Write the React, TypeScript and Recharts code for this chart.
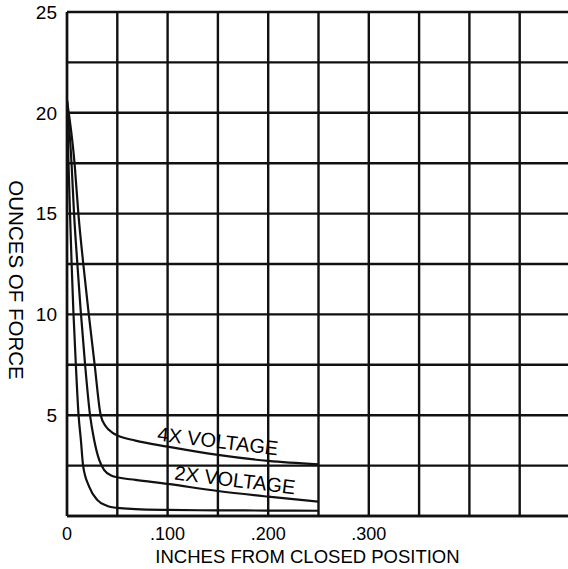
import React from 'react';
import { LineChart, Line, XAxis, YAxis, CartesianGrid, ReferenceDot, Label } from 'recharts';

const X_TICKS = [0, 0.05, 0.1, 0.15, 0.2, 0.25, 0.3, 0.35, 0.4, 0.45, 0.5];
const X_TICK_LABELS = ['0', '', '.100', '', '.200', '', '.300', '', '', '', ''];
const Y_TICKS = [0, 2.5, 5, 7.5, 10, 12.5, 15, 17.5, 20, 22.5, 25];
const Y_TICK_LABELS = ['', '', '5', '', '10', '', '15', '', '20', '', '25'];

const SERIES_4X = [
  { x: 0, y: 20.6 }, { x: 0.0075, y: 17.5 }, { x: 0.0113, y: 15 }, { x: 0.0162, y: 12.5 },
  { x: 0.0212, y: 10.2 }, { x: 0.0275, y: 7.5 }, { x: 0.0335, y: 5.0 }, { x: 0.0385, y: 4.45 },
  { x: 0.045, y: 4.14 }, { x: 0.05, y: 4.0 }, { x: 0.068, y: 3.74 }, { x: 0.1, y: 3.44 },
  { x: 0.15, y: 3.03 }, { x: 0.2, y: 2.73 }, { x: 0.25, y: 2.56 },
];
const SERIES_2X = [
  { x: 0, y: 20.6 }, { x: 0.0045, y: 17.5 }, { x: 0.007, y: 15 }, { x: 0.0103, y: 12.5 },
  { x: 0.0136, y: 10.2 }, { x: 0.018, y: 7.5 }, { x: 0.0229, y: 5.0 }, { x: 0.027, y: 3.77 },
  { x: 0.032, y: 2.78 }, { x: 0.037, y: 2.28 }, { x: 0.045, y: 1.99 }, { x: 0.05, y: 1.92 },
  { x: 0.068, y: 1.79 }, { x: 0.1, y: 1.59 }, { x: 0.15, y: 1.24 }, { x: 0.2, y: 0.96 },
  { x: 0.25, y: 0.71 },
];
const SERIES_1X = [
  { x: 0, y: 20.6 }, { x: 0.0015, y: 17.5 }, { x: 0.003, y: 15 }, { x: 0.0046, y: 12.5 },
  { x: 0.0063, y: 10.2 }, { x: 0.0088, y: 7.5 }, { x: 0.0115, y: 5.0 }, { x: 0.0138, y: 3.77 },
  { x: 0.016, y: 2.5 }, { x: 0.022, y: 1.46 }, { x: 0.03, y: 0.8 }, { x: 0.04, y: 0.5 },
  { x: 0.05, y: 0.4 }, { x: 0.068, y: 0.34 }, { x: 0.1, y: 0.3 }, { x: 0.15, y: 0.28 },
  { x: 0.2, y: 0.27 }, { x: 0.25, y: 0.26 },
];

const CURVE_LABELS = ['4X VOLTAGE', '2X VOLTAGE'];
const CURVE_LABEL_X = [0.15, 0.167];
const CURVE_LABEL_Y = [3.72, 1.79];
const CURVE_LABEL_ANGLE = [7, 7];

const X_TITLE = 'INCHES FROM CLOSED POSITION';
const Y_TITLE = 'OUNCES OF FORCE';

const FONT = '"Liberation Sans", Arial, Helvetica, sans-serif';
const INK = '#111';

export default function App() {
  return (
    <div style={{ position: 'absolute', left: 0, top: 0, width: 568, height: 569, overflow: 'hidden', background: '#fff' }}>
      <LineChart width={600} height={569} margin={{ top: 12, right: 30, bottom: 0, left: 0 }}>
        <CartesianGrid stroke={INK} strokeWidth={2.4} strokeOpacity={1} />
        <XAxis
          type="number"
          dataKey="x"
          domain={[0, 0.5]}
          ticks={X_TICKS}
          interval={0}
          height={53}
          tickLine={false}
          axisLine={{ stroke: INK, strokeWidth: 2.4 }}
          tickMargin={5}
          tickFormatter={(v: number, i: number) => X_TICK_LABELS[i]}
          tick={{ fill: '#000', fontSize: 18, fontFamily: FONT }}
          allowDataOverflow
        >
          <Label
            content={(props: any) => {
              const vb = props.viewBox;
              return (
                <text x={vb.x + vb.width / 2 - 11} y={vb.y + vb.height - 6} textAnchor="middle" fontSize={18.5} fontFamily={FONT} fill="#000">
                  {X_TITLE}
                </text>
              );
            }}
          />
        </XAxis>
        <YAxis
          type="number"
          domain={[0, 25]}
          ticks={Y_TICKS}
          interval={0}
          width={67}
          tickLine={false}
          axisLine={{ stroke: INK, strokeWidth: 2.4 }}
          tickMargin={4}
          tickFormatter={(v: number, i: number) => Y_TICK_LABELS[i]}
          tick={{ fill: '#000', fontSize: 19, fontFamily: FONT }}
          allowDataOverflow
        >
          <Label
            content={(props: any) => {
              const vb = props.viewBox;
              const x = 16;
              const y = vb.y + vb.height / 2 + 16;
              return (
                <text x={x} y={y} textAnchor="middle" dominantBaseline="central" transform={`rotate(90, ${x}, ${y})`} fontSize={20.5} fontFamily={FONT} fill="#000">
                  {Y_TITLE}
                </text>
              );
            }}
          />
        </YAxis>
        <Line data={SERIES_4X} dataKey="y" type="monotone" stroke={INK} strokeWidth={2.2} dot={false} isAnimationActive={false} />
        <Line data={SERIES_2X} dataKey="y" type="monotone" stroke={INK} strokeWidth={2.2} dot={false} isAnimationActive={false} />
        <Line data={SERIES_1X} dataKey="y" type="monotone" stroke={INK} strokeWidth={2.2} dot={false} isAnimationActive={false} />
        {CURVE_LABELS.map((t, i) => (
          <ReferenceDot
            key={t}
            x={CURVE_LABEL_X[i]}
            y={CURVE_LABEL_Y[i]}
            r={0}
            fill="none"
            stroke="none"
            ifOverflow="visible"
            label={
              <Label
                content={(props: any) => {
                  const vb = props.viewBox;
                  const cx = vb.x + (vb.width || 0) / 2;
                  const cy = vb.y + (vb.height || 0) / 2;
                  return (
                    <text x={cx} y={cy} textAnchor="middle" dominantBaseline="central" transform={`rotate(${CURVE_LABEL_ANGLE[i]}, ${cx}, ${cy})`} fontSize={20} fontFamily={FONT} fill="#000">
                      {t}
                    </text>
                  );
                }}
              />
            }
          />
        ))}
      </LineChart>
    </div>
  );
}
